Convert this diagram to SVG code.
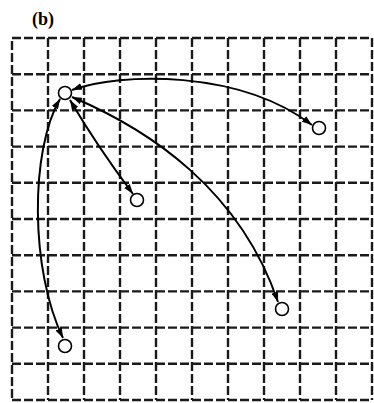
<svg xmlns="http://www.w3.org/2000/svg" width="374" height="403" viewBox="0 0 374 403">
<style>
.g{stroke:#1a1a1a;stroke-width:2.4;stroke-dasharray:9 3;fill:none}
.ge{stroke-dashoffset:9}
.c{stroke:#000;stroke-width:2;fill:none;marker-start:url(#ah);marker-end:url(#ah)}
.n{fill:#fff;stroke:#000;stroke-width:1.6}
.t{font-family:"Liberation Serif",serif;font-weight:bold;font-size:18px;fill:#000}
</style>
<defs>
<marker id="ah" viewBox="0 0 10 7" refX="10" refY="3.5" markerWidth="10" markerHeight="7" markerUnits="userSpaceOnUse" orient="auto-start-reverse">
<path d="M0,0 L10,3.5 L0,7 z" fill="#000"/>
</marker>
</defs>
<rect width="374" height="403" fill="#fff"/>
<text class="t" x="32" y="25">(b)</text>
<g id="grid">
<path class="g" d="M12,38H372M12,74.2H372M12,110.4H372M12,146.6H372M12,182.8H372M12,219H372M12,255.2H372M12,291.4H372M12,327.6H372M12,363.8H372M12,400H372"/>
<path class="g ge" d="M12,38V400"/>
<path class="g" d="M48,38V400M84,38V400M120,38V400M156,38V400M192,38V400M228,38V400M264,38V400M300,38V400M336,38V400M372,38V400"/>
</g>
<g id="connectors">
<path class="c" d="M72,90 C120,72 240,70 312,125"/>
<path class="c" d="M70,100 Q97,146 133,194"/>
<path class="c" d="M72,97 C150,130 240,190 278,302"/>
<path class="c" d="M60,99 C30,150 30,270 63,338"/>
</g>
<g id="hub"><circle class="n" cx="65" cy="93" r="6.5"/></g>
<g id="node-a"><circle class="n" cx="319" cy="128" r="6.5"/></g>
<g id="node-b"><circle class="n" cx="137" cy="200" r="6.5"/></g>
<g id="node-c"><circle class="n" cx="282" cy="309" r="6.5"/></g>
<g id="node-d"><circle class="n" cx="65" cy="346" r="6.5"/></g>
</svg>
